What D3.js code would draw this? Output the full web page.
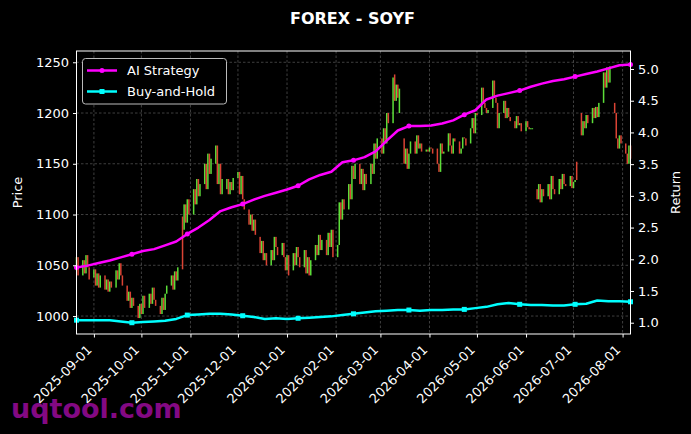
<!DOCTYPE html>
<html>
<head>
<meta charset="utf-8">
<script src="https://cdn.jsdelivr.net/npm/d3@7"></script>
<style>
  html, body { margin: 0; padding: 0; background: #000; }
  svg { display: block; font-family: "DejaVu Sans", sans-serif; }
</style>
</head>
<body>
<div id="chart-area"></div>
<script>
// daily candles [open, close], one row per week (business days 2025-08-21 .. 2026-08-06)
var candles = [
  [1045,1058],[1058,1040],
  [1040,1055],[1055,1042],[1042,1060],[1060,1048],[1048,1036],
  [1038,1046],[1046,1030],[1030,1042],[1042,1028],[1028,1040],
  [1040,1026],[1026,1036],[1036,1024],[1024,1034],[1034,1028],
  [1028,1045],[1045,1036],[1036,1052],[1052,1040],[1040,1030],
  [1030,1015],[1015,1024],[1024,1008],[1008,1018],[1018,1010],
  [1010,998],[998,1012],[1012,1002],[1002,1020],[1020,1008],
  [1008,1022],[1022,1012],[1012,1028],[1028,1016],[1016,1010],
  [1010,1002],[1002,1018],[1018,1006],[1006,1022],[1022,1030],
  [1030,1040],[1040,1026],[1026,1044],[1044,1035],[1035,1048],
  [1098,1046],[1085,1110],[1110,1092],[1092,1115],[1115,1100],
  [1100,1125],[1125,1110],[1110,1135],[1135,1118],[1118,1130],
  [1130,1150],[1150,1125],[1125,1160],[1160,1140],[1140,1155],
  [1150,1168],[1168,1130],[1130,1150],[1150,1120],[1120,1135],
  [1125,1135],[1135,1120],[1120,1132],[1132,1124],[1124,1136],
  [1136,1142],[1142,1120],[1120,1138],[1138,1115],[1115,1105],
  [1105,1090],[1090,1100],[1100,1084],[1084,1095],[1095,1080],
  [1078,1062],[1062,1074],[1074,1055],[1055,1062],[1062,1050],
  [1050,1065],[1065,1055],[1055,1078],[1078,1068],[1068,1060],
  [1060,1072],[1072,1058],[1058,1045],[1045,1060],[1060,1040],
  [1045,1062],[1062,1050],[1050,1068],[1068,1058],[1058,1048],
  [1048,1065],[1065,1042],[1042,1058],[1058,1040],[1040,1055],
  [1055,1070],[1070,1060],[1060,1080],[1080,1065],[1065,1075],
  [1075,1060],[1060,1082],[1082,1068],[1068,1085],[1085,1058],
  [1058,1070],[1070,1112],[1112,1095],[1095,1115],[1115,1105],
  [1105,1130],[1130,1115],[1115,1148],[1148,1135],[1135,1150],
  [1150,1130],[1130,1145],[1145,1124],[1124,1140],[1140,1130],
  [1130,1150],[1150,1140],[1140,1170],[1170,1155],[1155,1175],
  [1175,1160],[1160,1185],[1185,1170],[1170,1200],[1200,1190],
  [1190,1235],[1238,1212],[1212,1228],[1228,1215],[1200,1224],
  [1175,1150],[1150,1165],[1165,1145],[1145,1160],[1160,1172],
  [1172,1160],[1160,1178],[1178,1165],[1165,1170],[1170,1162],
  [1162,1164],[1164,1162],[1162,1166],[1166,1165],[1165,1160],
  [1165,1150],[1150,1142],[1142,1170],[1170,1160],[1160,1162],
  [1162,1180],[1180,1168],[1168,1160],[1160,1175],[1175,1172],
  [1172,1160],[1160,1165],[1165,1176],[1176,1175],[1175,1168],
  [1170,1185],[1185,1195],[1195,1180],[1180,1200],[1200,1198],
  [1198,1225],[1225,1210],[1210,1205],[1205,1200],[1200,1203],
  [1205,1232],[1232,1215],[1215,1210],[1210,1185],[1185,1200],
  [1200,1212],[1212,1195],[1195,1205],[1205,1196],[1196,1192],
  [1192,1185],[1185,1197],[1197,1188],[1188,1190],[1190,1182],
  [1182,1192],[1192,1186],[1186,1184],[1184,1185],[1185,1185],
  [1125,1115],[1115,1130],[1130,1112],[1112,1125],[1125,1118],
  [1118,1130],[1130,1115],[1115,1138],[1138,1125],[1125,1120],
  [1120,1135],[1135,1125],[1125,1140],[1140,1130],[1130,1128],
  [1128,1138],[1138,1126],[1126,1132],[1132,1134],[1152,1134],
  [1200,1178],[1178,1192],[1192,1185],[1185,1198],[1198,1190],
  [1190,1205],[1205,1195],[1195,1206],[1206,1196],[1196,1210],
  [1210,1240],[1240,1225],[1225,1245],[1245,1230],[1230,1246],
  [1210,1200],[1200,1175],[1175,1165],[1165,1178],[1178,1170],
  [1170,1160],[1160,1150],[1150,1168],[1168,1155]
];

// weekly samples of the two return curves (every 7 days from 2025-08-21)
var aiReturn = [
  1.87,1.90,1.94,1.98,2.03,2.08,2.13,2.16,2.22,2.28,
  2.40,2.50,2.62,2.76,2.82,2.87,2.94,3.00,3.05,3.10,
  3.16,3.26,3.33,3.38,3.53,3.56,3.61,3.70,3.87,4.03,
  4.10,4.10,4.11,4.14,4.19,4.28,4.35,4.52,4.58,4.62,
  4.66,4.72,4.77,4.81,4.84,4.88,4.92,4.96,5.01,5.06,5.07
];
var bhReturn = [
  1.04,1.04,1.04,1.04,1.02,1.00,1.01,1.02,1.03,1.06,
  1.12,1.13,1.14,1.14,1.13,1.11,1.09,1.06,1.07,1.06,
  1.07,1.08,1.09,1.10,1.12,1.14,1.16,1.18,1.19,1.20,
  1.20,1.19,1.20,1.20,1.21,1.21,1.23,1.25,1.29,1.31,
  1.29,1.28,1.28,1.27,1.27,1.29,1.30,1.35,1.34,1.34,1.33
];

var monthTicks = ["2025-09-01","2025-10-01","2025-11-01","2025-12-01","2026-01-01","2026-02-01",
  "2026-03-01","2026-04-01","2026-05-01","2026-06-01","2026-07-01","2026-08-01"];
var priceTicks = [1000, 1050, 1100, 1150, 1200, 1250];
var returnTicks = [1.0, 1.5, 2.0, 2.5, 3.0, 3.5, 4.0, 4.5, 5.0];
var seriesNames = ["AI Strategy", "Buy-and-Hold"];

var W = 691, H = 434;
var plot = {left: 76.5, right: 630.5, top: 51, bottom: 334};

var startDay = new Date(2025, 7, 21), endDay = new Date(2026, 7, 6);
var days = d3.timeDay.range(startDay, d3.timeDay.offset(endDay, 1))
  .filter(function(d){ return d.getDay() !== 0 && d.getDay() !== 6; });
var lineDays = d3.timeDay.range(startDay, d3.timeDay.offset(endDay, 1), 7);
var parseDay = d3.timeParse("%Y-%m-%d");

var svg = d3.select("#chart-area").append("svg")
  .attr("width", W).attr("height", H);
svg.append("rect").attr("width", W).attr("height", H).attr("fill", "#000");

var x = d3.scaleTime().domain([startDay, endDay]).range([plot.left, plot.right]);
var yP = d3.scaleLinear().domain([982.3, 1261.1]).range([plot.bottom, plot.top]);
var yR = d3.scaleLinear().domain([0.822, 5.284]).range([plot.bottom, plot.top]);

// grid
var grid = svg.append("g").attr("stroke", "#5a5a5a").attr("stroke-width", 0.7)
  .attr("stroke-dasharray", "2.5,2");
grid.selectAll(".gx").data(monthTicks).enter().append("line")
  .attr("x1", function(d){ return x(parseDay(d)); }).attr("x2", function(d){ return x(parseDay(d)); })
  .attr("y1", plot.top).attr("y2", plot.bottom);
grid.selectAll(".gy").data(priceTicks).enter().append("line")
  .attr("x1", plot.left).attr("x2", plot.right)
  .attr("y1", function(d){ return yP(d); }).attr("y2", function(d){ return yP(d); });

// candles
svg.append("g").selectAll("rect").data(candles).enter().append("rect")
  .attr("x", function(d, i){ return x(days[i]) - 0.75; })
  .attr("width", 1.5)
  .attr("y", function(d){ return yP(Math.max(d[0], d[1])); })
  .attr("height", function(d){ return Math.max(1, Math.abs(yP(d[0]) - yP(d[1]))); })
  .attr("fill", function(d){ return d[1] >= d[0] ? "#66f53f" : "#f24a3a"; })
  .attr("opacity", 0.9);

// return lines
var line = d3.line()
  .x(function(d, i){ return x(lineDays[i]); })
  .y(function(d){ return yR(d); });
var colors = ["#ff00ff", "#00ffff"];
[aiReturn, bhReturn].forEach(function(vals, s){
  svg.append("path").datum(vals)
    .attr("d", line).attr("fill", "none")
    .attr("stroke", colors[s]).attr("stroke-width", 2.5)
    .attr("stroke-linejoin", "round");
  var marks = vals.map(function(v, i){ return [i, v]; })
    .filter(function(p){ return p[0] % 5 === 0; });
  if (s === 0) {
    svg.append("g").selectAll("circle").data(marks).enter().append("circle")
      .attr("cx", function(p){ return x(lineDays[p[0]]); })
      .attr("cy", function(p){ return yR(p[1]); })
      .attr("r", 2.5).attr("fill", colors[s]);
  } else {
    svg.append("g").selectAll("rect").data(marks).enter().append("rect")
      .attr("x", function(p){ return x(lineDays[p[0]]) - 2.5; })
      .attr("y", function(p){ return yR(p[1]) - 2.5; })
      .attr("width", 5).attr("height", 5).attr("fill", colors[s]);
  }
});

// frame
svg.append("rect")
  .attr("x", plot.left).attr("y", plot.top)
  .attr("width", plot.right - plot.left).attr("height", plot.bottom - plot.top)
  .attr("fill", "none").attr("stroke", "#fff").attr("stroke-width", 1);

// axes
function styleAxis(g) {
  g.select(".domain").remove();
  g.selectAll(".tick line").attr("stroke", "#fff");
  g.selectAll(".tick text").attr("fill", "#fff").attr("font-size", "13px")
    .attr("font-family", "DejaVu Sans");
}
svg.append("g").attr("transform", "translate(" + plot.left + ",0)")
  .call(d3.axisLeft(yP).tickValues(priceTicks).tickSize(3.5).tickPadding(4).tickFormat(d3.format("d")))
  .call(styleAxis);
svg.append("g").attr("transform", "translate(" + plot.right + ",0)")
  .call(d3.axisRight(yR).tickValues(returnTicks).tickSize(3.5).tickPadding(4).tickFormat(d3.format(".1f")))
  .call(styleAxis);
var xAxis = svg.append("g").attr("transform", "translate(0," + plot.bottom + ")")
  .call(d3.axisBottom(x).tickValues(monthTicks.map(parseDay)).tickSize(3.5)
    .tickFormat(function(d, i){ return monthTicks[i]; }))
  .call(styleAxis);
xAxis.selectAll(".tick text")
  .attr("text-anchor", "end")
  .attr("x", -13).attr("y", 1.5).attr("dy", "0.7em")
  .attr("transform", "rotate(-45)");

// axis labels
svg.append("text").attr("transform", "translate(22," + ((plot.top + plot.bottom) / 2) + ") rotate(-90)")
  .attr("text-anchor", "middle").attr("fill", "#fff").attr("font-size", "13px").text("Price");
svg.append("text").attr("transform", "translate(680," + ((plot.top + plot.bottom) / 2) + ") rotate(-90)")
  .attr("text-anchor", "middle").attr("fill", "#fff").attr("font-size", "13px").text("Return");

// title
svg.append("text").attr("x", 352.5).attr("y", 24)
  .attr("text-anchor", "middle").attr("fill", "#fff").attr("font-size", "16px")
  .attr("font-weight", "bold").text("FOREX - SOYF");

// legend
var legend = svg.append("g");
legend.append("rect").attr("x", 82.5).attr("y", 58.5).attr("width", 144).attr("height", 45.5)
  .attr("rx", 3).attr("fill", "#000").attr("stroke", "#bbb").attr("stroke-width", 1);
seriesNames.forEach(function(name, i){
  var ly = 70.5 + i * 21;
  legend.append("line").attr("x1", 87).attr("x2", 117).attr("y1", ly).attr("y2", ly)
    .attr("stroke", colors[i]).attr("stroke-width", 2.5);
  if (i === 0) legend.append("circle").attr("cx", 102).attr("cy", ly).attr("r", 2.5).attr("fill", colors[i]);
  else legend.append("rect").attr("x", 99.5).attr("y", ly - 2.5).attr("width", 5).attr("height", 5).attr("fill", colors[i]);
  legend.append("text").attr("x", 127).attr("y", ly + 4.5).attr("fill", "#fff")
    .attr("font-size", "13px").text(name);
});

// watermark
svg.append("text").attr("x", 11).attr("y", 418).attr("fill", "#8b0a8b")
  .attr("font-size", "27px").attr("font-weight", "bold").attr("opacity", 0.95)
  .text("uqtool.com");
</script>
</body>
</html>
